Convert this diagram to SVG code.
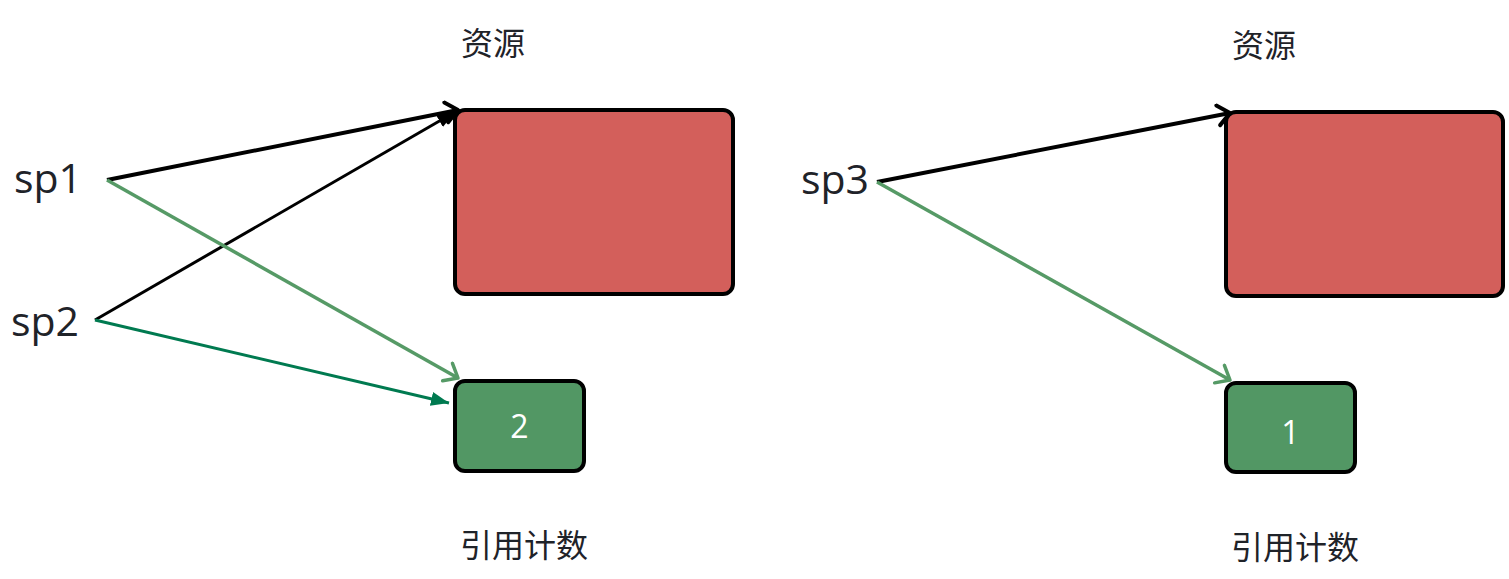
<svg xmlns="http://www.w3.org/2000/svg" width="1509" height="579" viewBox="0 0 1509 579">
<style>
.res{fill:#d35f5b;stroke:#000;stroke-width:4}
.cnt{fill:#529764;stroke:#000;stroke-width:4}
.lbl{font-family:"Open Sans","Liberation Sans","Noto Sans CJK SC",sans-serif;fill:#1f2329}
.cjk{font-family:"Noto Sans CJK SC",sans-serif;font-size:32px;fill:#1f2329}
.num{font-family:"Open Sans","Liberation Sans",sans-serif;font-size:32px;fill:#fff;text-anchor:middle}
.blk{stroke:#000;fill:none}
.grn{stroke:#569a66;fill:none;stroke-width:3.5}
.dg{stroke:#007a50;fill:none;stroke-width:3}
</style>
<defs>
<marker id="openB" markerUnits="userSpaceOnUse" markerWidth="30" markerHeight="30" refX="20" refY="12" orient="auto">
<path d="M8,2 L20,12 L8,22" fill="none" stroke="#000" stroke-width="4" stroke-linecap="round" stroke-linejoin="round"/>
</marker>
<marker id="openG" markerUnits="userSpaceOnUse" markerWidth="30" markerHeight="30" refX="20" refY="12" orient="auto">
<path d="M8,2 L20,12 L8,22" fill="none" stroke="#569a66" stroke-width="3.5" stroke-linecap="round" stroke-linejoin="round"/>
</marker>
<marker id="fillB" markerUnits="userSpaceOnUse" markerWidth="24" markerHeight="24" refX="18" refY="8" orient="auto">
<path d="M0,1 L18,8 L0,15 Z" fill="#000"/>
</marker>
<marker id="fillG" markerUnits="userSpaceOnUse" markerWidth="24" markerHeight="24" refX="18" refY="8" orient="auto">
<path d="M0,1 L18,8 L0,15 Z" fill="#007a50"/>
</marker>
</defs>
<g id="connectors">
<line class="blk" x1="107" y1="180" x2="458" y2="110" stroke-width="4" marker-end="url(#openB)"/>
<line class="blk" x1="95" y1="320" x2="455" y2="112" stroke-width="3" marker-end="url(#fillB)"/>
<line class="grn" x1="107" y1="180" x2="458" y2="378" marker-end="url(#openG)"/>
<line class="dg" x1="95" y1="320" x2="449" y2="403" marker-end="url(#fillG)"/>
<line class="blk" x1="877" y1="182" x2="1230" y2="113" stroke-width="4" marker-end="url(#openB)"/>
<line class="grn" x1="877" y1="182" x2="1230" y2="380" marker-end="url(#openG)"/>
</g>
<g id="sp1"><text class="lbl" x="14" y="193" font-size="41">sp1</text></g>
<g id="sp2"><text class="lbl" x="11" y="336" font-size="41">sp2</text></g>
<g id="sp3"><text class="lbl" x="801" y="194" font-size="41">sp3</text></g>
<g id="res1">
<rect class="res" x="455" y="110" width="278" height="184" rx="10"/>
<text class="cjk" x="461" y="55">资源</text>
</g>
<g id="cnt1">
<rect class="cnt" x="455" y="381" width="129" height="90" rx="10"/>
<text class="num" x="519.5" y="438">2</text>
<text class="cjk" x="460" y="557">引用计数</text>
</g>
<g id="res2">
<rect class="res" x="1226" y="112" width="277" height="184" rx="10"/>
<text class="cjk" x="1232" y="57">资源</text>
</g>
<g id="cnt2">
<rect class="cnt" x="1226" y="383" width="129" height="89" rx="10"/>
<text class="num" x="1290.5" y="444">1</text>
<text class="cjk" x="1231" y="559">引用计数</text>
</g>
</svg>
